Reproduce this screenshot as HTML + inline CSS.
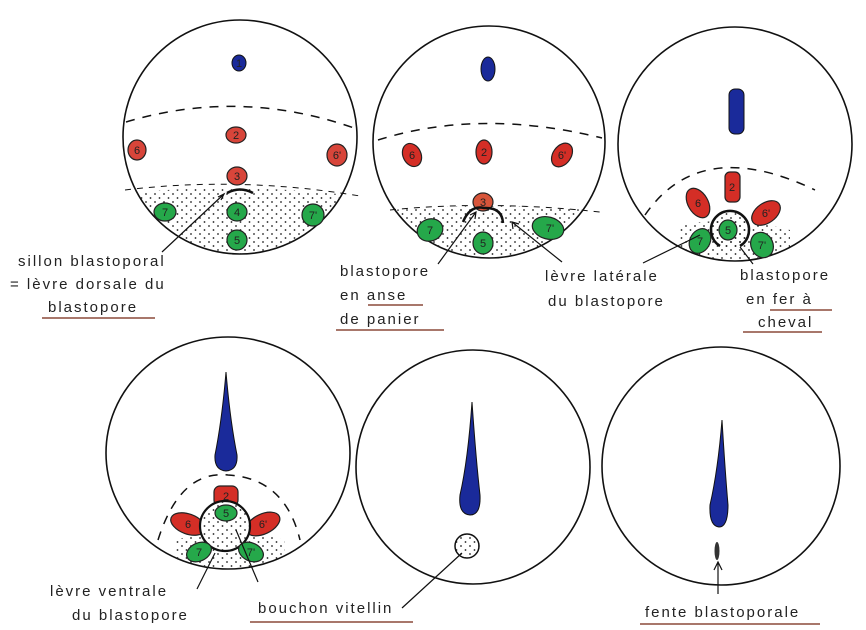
<!DOCTYPE html>
<html><head><meta charset="utf-8"><style>
body{margin:0;background:#fff}
svg{display:block}
text{font-family:"Liberation Sans",sans-serif;font-size:15px;fill:#222;letter-spacing:2px}
.n{font-size:11px;letter-spacing:0;text-anchor:middle;fill:#222}
</style></head><body>
<svg width="866" height="630" viewBox="0 0 866 630" xmlns="http://www.w3.org/2000/svg">
<defs>
<pattern id="st" width="9" height="8" patternUnits="userSpaceOnUse">
<circle cx="2" cy="2" r="0.9" fill="#222"/><circle cx="6.5" cy="6" r="0.9" fill="#222"/>
</pattern>
<clipPath id="c1"><circle cx="240" cy="137" r="117"/></clipPath>
<clipPath id="c2"><circle cx="489" cy="142" r="116"/></clipPath>
<clipPath id="c3"><circle cx="735" cy="144" r="117"/></clipPath>
<clipPath id="c4"><ellipse cx="228" cy="453" rx="122" ry="116"/></clipPath>
</defs>
<g fill="none" stroke="#111" stroke-width="1.6">
<circle cx="240" cy="137" r="117"/>
<circle cx="489" cy="142" r="116"/>
<circle cx="735" cy="144" r="117"/>
<ellipse cx="228" cy="453" rx="122" ry="116"/>
<circle cx="473" cy="467" r="117"/>
<circle cx="721" cy="466" r="119"/>
</g>
<!-- stipple regions -->
<path d="M110 195 Q240 180 370 198 L370 260 L110 260Z" fill="url(#st)" clip-path="url(#c1)"/>
<path d="M370 212 Q489 200 610 212 L610 265 L370 265Z" fill="url(#st)" clip-path="url(#c2)"/>
<path d="M680 225 Q735 215 790 230 L790 265 L680 265Z" fill="url(#st)" clip-path="url(#c3)"/>
<path d="M175 540 Q228 525 285 540 L285 580 L175 580Z" fill="url(#st)" clip-path="url(#c4)"/>
<!-- dashed arcs -->
<g fill="none" stroke="#111" stroke-width="1.5" stroke-dasharray="9 8">
<path d="M126 122 Q240 88 354 128"/>
<path d="M378 140 Q480 108 602 138"/>
<path d="M645 215 Q700 135 815 190"/>
<path d="M158 540 Q180 470 228 475 Q285 478 300 540"/>
<path d="M125 190 Q240 176 360 196" stroke-dasharray="6 6" stroke-width="1"/>
<path d="M390 210 Q489 200 600 212" stroke-dasharray="6 6" stroke-width="1"/>
</g>
<!-- circle1 -->
<ellipse cx="239" cy="63" rx="7" ry="8" fill="#1a2a9a" stroke="#111"/>
<g fill="#d8453a" stroke="#222" stroke-width="1.2">
<ellipse cx="236" cy="135" rx="10" ry="8"/>
<ellipse cx="137" cy="150" rx="9" ry="10"/>
<ellipse cx="337" cy="155" rx="10" ry="11"/>
<ellipse cx="237" cy="176" rx="10" ry="9"/>
</g>
<g fill="#25a84a" stroke="#222" stroke-width="1.2">
<ellipse cx="165" cy="212" rx="11" ry="9"/>
<ellipse cx="237" cy="212" rx="10" ry="9"/>
<ellipse cx="313" cy="215" rx="11" ry="11"/>
<ellipse cx="237" cy="240" rx="10" ry="10"/>
</g>
<text class="n" x="239" y="67">1</text><text class="n" x="236" y="139">2</text><text class="n" x="137" y="154">6</text><text class="n" x="337" y="159">6'</text><text class="n" x="237" y="180">3</text>
<text class="n" x="165" y="216">7</text><text class="n" x="237" y="216">4</text><text class="n" x="313" y="219">7'</text><text class="n" x="237" y="244">5</text>
<path d="M227 193 Q240 186 253 193" fill="none" stroke="#111" stroke-width="2.5"/>
<!-- circle2 -->
<ellipse cx="488" cy="69" rx="7" ry="12" fill="#1a2a9a" stroke="#111"/>
<g fill="#d42e26" stroke="#222" stroke-width="1.2">
<ellipse cx="412" cy="155" rx="9" ry="12" transform="rotate(-25 412 155)"/>
<ellipse cx="484" cy="152" rx="8" ry="12"/>
<ellipse cx="562" cy="155" rx="9" ry="13" transform="rotate(35 562 155)"/>
<ellipse cx="483" cy="202" rx="10" ry="9" fill="#d8553a"/>
</g>
<g fill="#25a84a" stroke="#222" stroke-width="1.2">
<ellipse cx="430" cy="230" rx="13" ry="11" transform="rotate(-20 430 230)"/>
<ellipse cx="483" cy="243" rx="10" ry="11"/>
<ellipse cx="548" cy="228" rx="16" ry="11" transform="rotate(15 548 228)"/>
</g>
<text class="n" x="412" y="159">6</text><text class="n" x="484" y="156">2</text><text class="n" x="562" y="159">6'</text><text class="n" x="483" y="206">3</text>
<text class="n" x="430" y="234">7</text><text class="n" x="483" y="247">5</text><text class="n" x="550" y="232">7'</text>
<path d="M463 222 Q470 205 484 208 Q502 207 503 223" fill="none" stroke="#111" stroke-width="2.5"/>
<!-- circle3 -->
<rect x="729" y="89" width="15" height="45" rx="6" fill="#1a2a9a" stroke="#111"/>
<g fill="#d42e26" stroke="#222" stroke-width="1.2">
<rect x="725" y="172" width="15" height="30" rx="5"/>
<ellipse cx="698" cy="203" rx="10" ry="16" transform="rotate(-30 698 203)"/>
<ellipse cx="766" cy="213" rx="10" ry="16" transform="rotate(55 766 213)"/>
</g>
<circle cx="730" cy="230" r="19" fill="url(#st)"/>
<path d="M720 246 A19 19 0 1 1 740 246" fill="none" stroke="#111" stroke-width="2.5"/>
<g fill="#25a84a" stroke="#222" stroke-width="1.2">
<ellipse cx="728" cy="230" rx="9" ry="10"/>
<ellipse cx="700" cy="241" rx="10" ry="13" transform="rotate(30 700 241)"/>
<ellipse cx="762" cy="245" rx="11" ry="13" transform="rotate(-25 762 245)"/>
</g>
<text class="n" x="732" y="191">2</text><text class="n" x="698" y="207">6</text><text class="n" x="766" y="217">6'</text>
<text class="n" x="728" y="234">5</text><text class="n" x="700" y="245">7</text><text class="n" x="762" y="249">7'</text>
<!-- circle4 -->
<path d="M226 372 Q230 420 237 455 Q238 470 226 471 Q214 470 215 455 Q222 420 226 372Z" fill="#1a2a9a" stroke="#111"/>
<g fill="#d42e26" stroke="#222" stroke-width="1.2">
<rect x="214" y="486" width="24" height="20" rx="6"/>
<ellipse cx="188" cy="524" rx="18" ry="10" transform="rotate(20 188 524)"/>
<ellipse cx="263" cy="524" rx="18" ry="10" transform="rotate(-25 263 524)"/>
</g>
<circle cx="225" cy="526" r="25" fill="#fff"/>
<circle cx="225" cy="526" r="25" fill="url(#st)" stroke="#111" stroke-width="2.2"/>
<g fill="#25a84a" stroke="#222" stroke-width="1.2">
<ellipse cx="226" cy="513" rx="11" ry="8"/>
<ellipse cx="199" cy="552" rx="13" ry="9" transform="rotate(-25 199 552)"/>
<ellipse cx="251" cy="552" rx="13" ry="9" transform="rotate(25 251 552)"/>
</g>
<text class="n" x="226" y="500">2</text><text class="n" x="188" y="528">6</text><text class="n" x="263" y="528">6'</text>
<text class="n" x="226" y="517">5</text><text class="n" x="199" y="556">7</text><text class="n" x="251" y="556">7'</text>
<!-- circle5 -->
<path d="M472 402 Q476 460 480 495 Q481 515 470 515 Q458 514 460 495 Q468 460 472 402Z" fill="#1a2a9a" stroke="#111"/>
<circle cx="467" cy="546" r="12" fill="url(#st)" stroke="#111" stroke-width="1.5"/>
<!-- circle6 -->
<path d="M722 420 Q725 470 728 505 Q728 527 719 527 Q709 526 710 505 Q718 470 722 420Z" fill="#1a2a9a" stroke="#111"/>
<ellipse cx="717" cy="551" rx="2.5" ry="9" fill="#333"/>
<!-- leaders -->
<g fill="none" stroke="#111" stroke-width="1.2">
<path d="M162 252 L224 194"/><path d="M218 197 L224 194 L221 200"/>
<path d="M438 264 L476 212"/><path d="M470 215 L476 212 L475 219"/>
<path d="M562 262 L512 222"/><path d="M513 229 L512 222 L519 224"/>
<path d="M643 263 L700 235"/>
<path d="M753 264 L740 247"/>
<path d="M197 589 L215 553"/>
<path d="M258 582 L236 530"/>
<path d="M402 608 L462 553"/>
<path d="M718 594 L718 563"/><path d="M714 570 L718 562 L722 570"/>
</g>
<!-- labels -->
<text x="18" y="266">sillon blastoporal</text>
<text x="10" y="289">= lèvre dorsale du</text>
<text x="48" y="312">blastopore</text>
<line x1="42" y1="318" x2="155" y2="318" stroke="#8b4a3a" stroke-width="1.5"/>
<text x="340" y="276">blastopore</text>
<text x="340" y="300">en anse</text>
<line x1="368" y1="305" x2="423" y2="305" stroke="#8b4a3a" stroke-width="1.5"/>
<text x="340" y="324">de panier</text>
<line x1="336" y1="330" x2="444" y2="330" stroke="#8b4a3a" stroke-width="1.5"/>
<text x="545" y="281">lèvre latérale</text>
<text x="548" y="306">du blastopore</text>
<text x="740" y="280">blastopore</text>
<text x="746" y="304">en fer à</text>
<line x1="770" y1="310" x2="832" y2="310" stroke="#8b4a3a" stroke-width="1.5"/>
<text x="758" y="327">cheval</text>
<line x1="743" y1="332" x2="822" y2="332" stroke="#8b4a3a" stroke-width="1.5"/>
<text x="50" y="596">lèvre ventrale</text>
<text x="72" y="620">du blastopore</text>
<text x="258" y="613">bouchon vitellin</text>
<line x1="250" y1="622" x2="413" y2="622" stroke="#8b4a3a" stroke-width="1.5"/>
<text x="645" y="617">fente blastoporale</text>
<line x1="640" y1="624" x2="820" y2="624" stroke="#8b4a3a" stroke-width="1.5"/>
</svg>
</body></html>
